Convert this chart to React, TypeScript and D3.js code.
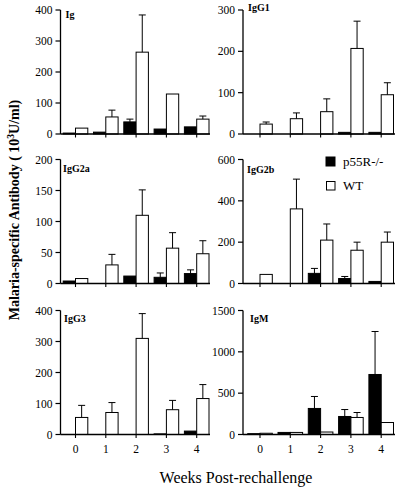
import React from "react";
import * as d3 from "d3";

const weeks = ["0", "1", "2", "3", "4"];
const panelNames = ["Ig", "IgG1", "IgG2a", "IgG2b", "IgG3", "IgM"];
const yMaxes = [400, 300, 200, 600, 400, 1500];
const yTickSteps = [100, 100, 50, 200, 100, 500];
const seriesNames = ["p55R-/-", "WT"];

// p55R-/- values and error tops (null = no error bar)
const koIg = [3, 6, 39, 16, 23];
const koIgErr = [null, null, 48, null, null];
const wtIg = [19, 55, 264, 129, 48];
const wtIgErr = [null, 77, 384, null, 58];

const koIgG1 = [0, 0, 0, 4, 4];
const koIgG1Err = [null, null, null, null, null];
const wtIgG1 = [24, 37, 54, 207, 95];
const wtIgG1Err = [29, 51, 85, 273, 124];

const koIgG2a = [4, 0, 12, 10, 16];
const koIgG2aErr = [null, null, null, 17, 22];
const wtIgG2a = [8, 30, 110, 57, 48];
const wtIgG2aErr = [null, 47, 151, 82, 69];

const koIgG2b = [0, 0, 49, 24, 10];
const koIgG2bErr = [null, null, 73, 34, null];
const wtIgG2b = [44, 361, 210, 161, 200];
const wtIgG2bErr = [null, 505, 288, 200, 249];

const koIgG3 = [0, 0, 0, 2, 11];
const koIgG3Err = [null, null, null, null, null];
const wtIgG3 = [55, 71, 310, 80, 116];
const wtIgG3Err = [94, 103, 390, 110, 161];

const koIgM = [10, 25, 315, 218, 726];
const koIgMErr = [null, null, 460, 302, 1246];
const wtIgM = [15, 25, 30, 206, 145];
const wtIgMErr = [null, null, null, 266, null];

const koData = [koIg, koIgG1, koIgG2a, koIgG2b, koIgG3, koIgM];
const koErrs = [koIgErr, koIgG1Err, koIgG2aErr, koIgG2bErr, koIgG3Err, koIgMErr];
const wtData = [wtIg, wtIgG1, wtIgG2a, wtIgG2b, wtIgG3, wtIgM];
const wtErrs = [wtIgErr, wtIgG1Err, wtIgG2aErr, wtIgG2bErr, wtIgG3Err, wtIgMErr];

const FONT = "'Liberation Serif', 'DejaVu Serif', serif";

// layout
const colAxisX = [60.5, 243];
const colFirstCenter = [75.5, 260];
const colXEnd = [210, 395];
const rowBase = [134, 283.5, 434.5];
const plotH = 124;
const step = 30.3;
const barW = 12.3;
const labelDY = [8, 1, 12.5, 13.5, 11.5, 11.5];
const labelDX = [5, 5, 2.5, 4, 3.5, 7];

function Panel({ idx }: { idx: number }) {
  const col = idx % 2;
  const row = Math.floor(idx / 2);
  const axisX = colAxisX[col];
  const base = rowBase[row];
  const top = base - plotH;
  const x = d3
    .scalePoint<string>()
    .domain(weeks)
    .range([colFirstCenter[col], colFirstCenter[col] + step * (weeks.length - 1)]);
  const y = d3.scaleLinear().domain([0, yMaxes[idx]]).range([base, top]);
  const ticks = d3.range(0, yMaxes[idx] + 1, yTickSteps[idx]);
  const series = [
    { vals: koData[idx], errs: koErrs[idx], fill: "#000", off: -barW },
    { vals: wtData[idx], errs: wtErrs[idx], fill: "#fff", off: 0 },
  ];
  return (
    <g>
      {series.map((s, si) =>
        s.vals.map((v, i) => {
          const cx = x(weeks[i])! + s.off;
          const yt = y(v);
          const e = s.errs[i];
          return (
            <g key={`${si}-${i}`}>
              {v > 0 && (
                <rect
                  x={cx}
                  y={yt}
                  width={barW}
                  height={base - yt}
                  fill={s.fill}
                  stroke="#000"
                  strokeWidth={1}
                />
              )}
              {e != null && (
                <g stroke="#000" strokeWidth={1}>
                  <line x1={cx + barW / 2} x2={cx + barW / 2} y1={yt} y2={y(e)} />
                  <line x1={cx + barW / 2 - 3.5} x2={cx + barW / 2 + 3.5} y1={y(e)} y2={y(e)} />
                </g>
              )}
            </g>
          );
        })
      )}
      {/* axes */}
      <line x1={axisX} x2={axisX} y1={top} y2={base} stroke="#000" strokeWidth={1.3} />
      <line x1={axisX} x2={colXEnd[col]} y1={base} y2={base} stroke="#000" strokeWidth={1.3} />
      {ticks.map((t) => (
        <g key={t}>
          <line x1={axisX - 5} x2={axisX} y1={y(t)} y2={y(t)} stroke="#000" strokeWidth={1.2} />
          <text
            x={axisX - 8}
            y={y(t)}
            dy="0.35em"
            textAnchor="end"
            fontFamily={FONT}
            fontSize={11.5}
          >
            {t}
          </text>
        </g>
      ))}
      {weeks.map((w) => (
        <g key={w}>
          <line x1={x(w)} x2={x(w)} y1={base} y2={base + 3.5} stroke="#000" strokeWidth={1.1} />
          {row === 2 && (
            <text x={x(w)} y={452.5} textAnchor="middle" fontFamily={FONT} fontSize={11.5}>
              {w}
            </text>
          )}
        </g>
      ))}
      <text
        x={axisX + labelDX[idx]}
        y={top + labelDY[idx]}
        fontFamily={FONT}
        fontWeight="bold"
        fontSize={10}
      >
        {panelNames[idx]}
      </text>
    </g>
  );
}

export default function App() {
  return (
    <svg
      width={400}
      height={489}
      style={{ position: "absolute", left: 0, top: 0, background: "#fff" }}
    >
      <rect width={400} height={489} fill="#fff" />
      {panelNames.map((_, i) => (
        <Panel key={i} idx={i} />
      ))}
      {/* legend */}
      <rect x={326} y={157} width={9} height={9} fill="#000" stroke="#000" />
      <text x={343} y={166} fontFamily={FONT} fontSize={13}>
        {seriesNames[0]}
      </text>
      <rect x={326.5} y={181.5} width={8.5} height={8.5} fill="#fff" stroke="#000" strokeWidth={1} />
      <text x={343} y={190} fontFamily={FONT} fontSize={13}>
        {seriesNames[1]}
      </text>
      {/* axis titles */}
      <text
        transform="translate(19,210) rotate(-90)"
        textAnchor="middle"
        fontFamily={FONT}
        fontWeight="bold"
        fontSize={14}
      >
        Malaria-specific Antibody ( 10
        <tspan dy={-5} fontSize={9.5}>3</tspan>
        <tspan dy={5}>U/ml)</tspan>
      </text>
      <text x={236} y={483} textAnchor="middle" fontFamily={FONT} fontSize={16}>
        Weeks Post-rechallenge
      </text>
    </svg>
  );
}
